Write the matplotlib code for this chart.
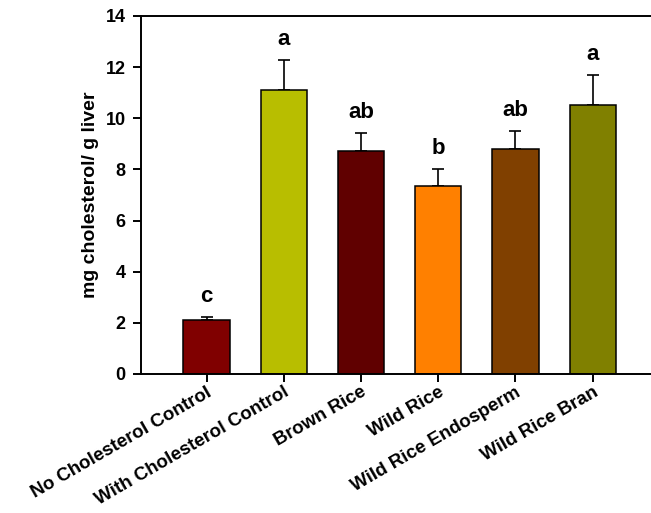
import matplotlib.pyplot as plt
import numpy as np

plt.rcParams['font.family'] = ['Liberation Sans', 'DejaVu Sans']

# Daten
grupos = ['No Cholesterol Control', 'With Cholesterol Control', 'Brown Rice',
          'Wild Rice', 'Wild Rice Endosperm', 'Wild Rice Bran']
medias = [2.1, 11.1, 8.7, 7.33, 8.8, 10.5]
erros = [0.12, 1.17, 0.71, 0.67, 0.70, 1.19]
letras = ['c', 'a', 'ab', 'b', 'ab', 'a']
cores = ['#800000', '#b8be00', '#600000', '#ff8000', '#804000', '#808000']

fig = plt.figure(figsize=(6.51, 5.13), dpi=100)
# o eixo passa da borda direita da figura, como no original
ax = fig.add_axes([0.2166, 0.271, 0.797, 0.698])

x = np.arange(len(grupos))
ax.bar(x, medias, width=0.6, color=cores, edgecolor='black', linewidth=1.1, zorder=2)
ax.errorbar(x, medias, yerr=[np.zeros(len(erros)), erros], fmt='none',
            ecolor='black', elinewidth=1.2, capsize=4.5, capthick=1.2, zorder=1)

# letras de significância
for xi, m, e, l in zip(x, medias, erros, letras):
    ax.text(xi, m + e + 0.8, l, ha='center', va='center',
            fontsize=16, fontweight='bold')

ax.set_xlim(-0.85, 5.87)
ax.set_ylim(0, 14)
ax.set_yticks(range(0, 15, 2))
ax.set_xticks(x)
ax.set_xticklabels(grupos, rotation=30, ha='right', va='top', rotation_mode='anchor',
                   fontsize=13.5, fontweight='bold')
for t in ax.get_yticklabels():
    t.set_fontweight('bold')
    t.set_fontsize(13)
ax.set_ylabel('mg cholesterol/ g liver', fontsize=14, fontweight='bold', labelpad=5)

ax.spines['right'].set_visible(False)
for s in ['left', 'bottom', 'top']:
    ax.spines[s].set_linewidth(1.4)
ax.tick_params(axis='both', direction='out', length=6, width=1.4)
ax.tick_params(axis='y', pad=5)
ax.tick_params(axis='x', pad=1)

fig.savefig('out.png', dpi=100)
